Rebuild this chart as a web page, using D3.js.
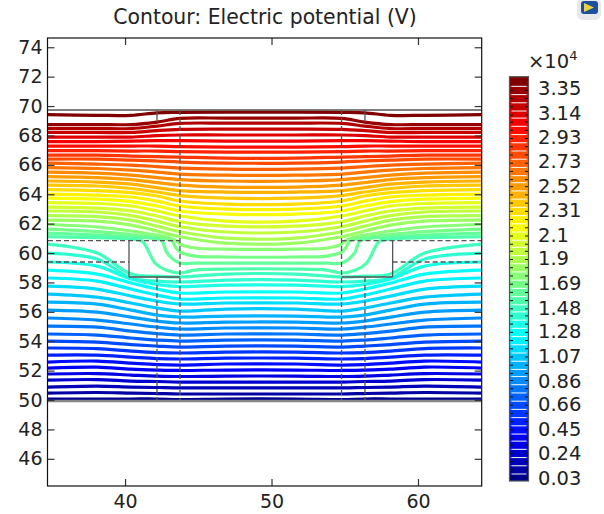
<!DOCTYPE html>
<html><head><meta charset="utf-8">
<script src="https://cdn.jsdelivr.net/npm/d3@7"></script>
<style>html,body{margin:0;padding:0;background:#fff}svg{display:block}text{font-family:"DejaVu Sans",sans-serif;fill:#222}</style>
</head><body><svg id="c" width="604" height="514"></svg>
<script>
const title = "Contour: Electric potential (V)";
const xTicks = [40, 50, 60];
const yTicks = [46,48,50,52,54,56,58,60,62,64,66,68,70,72,74];
const xDomain = [34.74, 64.35];
const yDomain = [44.15, 74.63];
const colorbarLabels = [3.35,3.14,2.93,2.73,2.52,2.31,2.1,1.9,1.69,1.48,1.28,1.07,0.86,0.66,0.45,0.24,0.03];
const levels = [3.40,3.33,3.26,3.19,3.12,3.06,2.99,2.92,2.85,2.78,2.71,2.64,2.57,2.51,2.44,2.37,2.30,2.23,2.16,2.09,2.02,1.96,1.89,1.82,1.75,1.68,1.61,1.54,1.47,1.41,1.34,1.27,1.20,1.13,1.06,0.99,0.92,0.86,0.79,0.72,0.65,0.58,0.51,0.44,0.37,0.31,0.24,0.17,0.10,0.03];
const jetStops = [0, 0.11, 0.36, 0.5, 0.64, 0.89, 1];
const jetColors = ["#00008f","#0000ff","#00ffff","#7fff7f","#ffff00","#ff0000","#800000"];

// x positions at which contour heights were read, left half
const nodeX = [34.74, 38.09, 40.41, 42.18, 43.75, 46.89];
const symmetryX = 49.27;
const rightEdgeX = 64.35;

// contour heights at nodeX, rows are levels 0-23
const upperRows = [
[69.41,69.37,69.37,69.54,69.57,69.59],
[68.74,68.74,68.74,68.91,69.16,69.18],
[68.47,68.47,68.47,68.64,68.82,68.84],
[68.20,68.20,68.20,68.33,68.41,68.43],
[67.89,67.89,67.89,67.99,68.03,68.03],
[67.58,67.58,67.62,67.65,67.65,67.62],
[67.28,67.28,67.28,67.28,67.24,67.21],
[66.97,66.97,66.94,66.94,66.90,66.87],
[66.66,66.66,66.60,66.56,66.53,66.46],
[66.39,66.39,66.32,66.26,66.19,66.12],
[66.12,66.05,65.98,65.88,65.78,65.71],
[65.81,65.75,65.64,65.51,65.37,65.30],
[65.51,65.44,65.30,65.13,65.00,64.90],
[65.20,65.13,65.00,64.79,64.62,64.49],
[64.90,64.83,64.69,64.45,64.25,64.15],
[64.62,64.56,64.39,64.15,63.91,63.74],
[64.32,64.25,64.11,63.88,63.54,63.33],
[64.01,63.94,63.81,63.53,63.20,62.99],
[63.74,63.67,63.50,63.20,62.86,62.65],
[63.43,63.37,63.20,62.86,62.52,62.17],
[63.13,63.06,62.86,62.52,62.13,61.83],
[62.86,62.79,62.55,62.17,61.79,61.43],
[62.55,62.48,62.24,61.83,61.45,61.02],
[62.24,62.17,61.90,61.50,61.11,60.68]];

// levels 24-27 dip into the cavity, so they carry their own x positions
const dipX24 = [34.74,38.09,40.41,42.18,43.07,43.55,43.75,44.78,46.89];
const dipY24 = [61.94,61.77,61.50,61.22,61.02,60.81,60.61,60.34,60.27];
const dipX25 = [34.74,38.09,40.41,42.18,42.94,43.21,43.48,43.75,44.78,46.89];
const dipY25 = [61.63,61.46,61.26,61.05,60.92,60.81,60.34,60.07,59.79,59.73];
const dipX26 = [34.74,38.09,40.41,42.18,42.53,42.87,43.75,44.78,46.89];
const dipY26 = [61.36,61.22,61.09,60.95,60.81,60.00,59.32,59.32,59.32];
const dipX27 = [34.74,38.09,40.41,41.16,42.05,42.80,43.75,44.78,46.89];
const dipY27 = [61.12,61.05,60.95,60.81,59.32,58.84,58.64,58.84,58.91];

// contour heights at nodeX, rows are levels 28-49
const lowerRows = [
[60.61,60.00,58.57,58.43,58.37,58.57],
[60.00,59.59,58.30,58.09,58.03,58.16],
[59.39,59.11,58.23,57.86,57.72,57.82],
[58.84,58.57,57.96,57.55,57.28,57.35],
[58.30,58.09,57.55,57.14,56.87,56.94],
[57.75,57.55,57.07,56.73,56.53,56.60],
[57.21,57.00,56.60,56.26,56.05,56.19],
[56.66,56.53,56.12,55.78,55.64,55.71],
[56.12,55.98,55.64,55.37,55.24,55.30],
[55.58,55.44,55.17,54.96,54.83,54.90],
[55.03,54.96,54.69,54.52,54.42,54.49],
[54.49,54.42,54.22,54.08,54.01,54.08],
[54.01,53.94,53.77,53.67,53.60,53.67],
[53.54,53.50,53.33,53.23,53.20,53.26],
[53.06,53.06,52.92,52.82,52.79,52.85],
[52.58,52.65,52.51,52.41,52.38,52.45],
[52.17,52.24,52.10,52.04,52.01,52.04],
[51.77,51.80,51.70,51.63,51.60,51.63],
[51.36,51.39,51.29,51.26,51.22,51.22],
[50.88,50.95,50.88,50.85,50.82,50.82],
[50.47,50.51,50.47,50.44,50.41,50.41],
[50.07,50.07,50.07,50.07,50.03,50.07]];

// geometry edges: x1,y1,x2,y2,dashed
const geometry = [
[34.74,69.73,64.35,69.73,0],
[42.18,69.73,42.18,68.91,0],[56.38,69.73,56.38,68.91,0],
[43.75,69.73,43.75,50,1],[54.78,69.73,54.78,50,1],
[42.18,58.37,42.18,50,1],[56.38,58.37,56.38,50,1],
[34.74,60.85,43.75,60.85,1],[54.78,60.85,64.35,60.85,1],
[34.74,59.39,40.27,59.39,1],[58.27,59.39,64.35,59.39,1],
[40.27,60.85,40.27,58.37,0],[58.27,60.85,58.27,58.37,0],
[40.27,58.37,43.75,58.37,0],[54.78,58.37,58.27,58.37,0]];
const substrateY = 49.93;

const plot = {l:47.5, r:481.7, t:38, b:486};
const x = d3.scaleLinear().domain(xDomain).range([plot.l+0.5, plot.r]);
const y = d3.scaleLinear().domain(yDomain).range([plot.b, plot.t]);
const jetScale = d3.scaleLinear().domain(jetStops).range(jetColors);
const colorOf = v => jetScale((v-0.03)/(3.40-0.03));
const svg = d3.select("#c");
const defs = svg.append("defs");
defs.append("clipPath").attr("id","pc").append("rect").attr("x",plot.l).attr("y",plot.t).attr("width",plot.r-plot.l).attr("height",plot.b-plot.t);

svg.append("text").attr("x",265).attr("y",24).attr("text-anchor","middle").attr("font-size",20.4).text(title);

const mirror = v => v===nodeX[0] ? rightEdgeX : 2*symmetryX - v;
const lineGen = d3.line().x(d=>x(d[0])).y(d=>y(d[1])).curve(d3.curveCatmullRom.alpha(0.5));
function fullLine(xs, ys){
  const left = xs.map((v,i)=>[v,ys[i]]);
  const right = xs.map((v,i)=>[mirror(v),ys[i]]).reverse();
  return left.concat(right);
}
const lineSets = [
  ...upperRows.map(r=>fullLine(nodeX,r)),
  fullLine(dipX24,dipY24),fullLine(dipX25,dipY25),fullLine(dipX26,dipY26),fullLine(dipX27,dipY27),
  ...lowerRows.map(r=>fullLine(nodeX,r))
];
const gL = svg.append("g").attr("clip-path","url(#pc)");
gL.selectAll("path").data(lineSets).join("path")
  .attr("d",lineGen).attr("fill","none").attr("stroke-width",3.2)
  .attr("stroke",(d,i)=>colorOf(levels[i]));

const gG = svg.append("g").attr("clip-path","url(#pc)");
gG.selectAll("line").data(geometry).join("line")
  .attr("x1",d=>x(d[0])).attr("y1",d=>y(d[1])).attr("x2",d=>x(d[2])).attr("y2",d=>y(d[3]))
  .attr("stroke","#555").attr("stroke-width",1.3)
  .attr("stroke-dasharray",d=>d[4]?"5 3":null);
gG.append("line").attr("x1",x(xDomain[0])).attr("x2",x(xDomain[1])).attr("y1",y(substrateY)).attr("y2",y(substrateY))
  .attr("stroke","#888").attr("stroke-width",2.4);

function styleAxis(g){
  g.selectAll(".domain").remove();
  g.selectAll("line").attr("stroke","#333").attr("stroke-width",1.2);
  g.selectAll("text").attr("font-size",19).attr("font-family",'"DejaVu Sans"').attr("fill","#222");
}
svg.append("g").attr("transform",`translate(0,${plot.b})`).call(d3.axisBottom(x).tickValues(xTicks).tickSize(-7).tickPadding(9).tickFormat(d3.format("d"))).call(styleAxis);
svg.append("g").attr("transform",`translate(0,${plot.t})`).call(d3.axisTop(x).tickValues(xTicks).tickSize(-7).tickFormat("")).call(styleAxis);
svg.append("g").attr("transform",`translate(${plot.l},0)`).call(d3.axisLeft(y).tickValues(yTicks).tickSize(-7).tickPadding(5).tickFormat(d3.format("d"))).call(styleAxis);
svg.append("g").attr("transform",`translate(${plot.r},0)`).call(d3.axisRight(y).tickValues(yTicks).tickSize(-7).tickFormat("")).call(styleAxis);
svg.append("rect").attr("x",plot.l).attr("y",plot.t).attr("width",plot.r-plot.l).attr("height",plot.b-plot.t).attr("fill","none").attr("stroke","#111").attr("stroke-width",1.2);

// colour bar
const bar = {l:509.5, r:528.5, t:76.7, b:481};
const barY = d3.scaleLinear().domain([0.03,3.35]).range([478,88]);
const barG = svg.append("g");
levels.forEach((v,i)=>{
  const next = i<levels.length-1 ? levels[i+1] : 0.0;
  const top = i===0 ? bar.t : barY(v+0.034);
  const bottom = i===levels.length-1 ? bar.b : barY(next+0.034);
  barG.append("rect").attr("x",bar.l).attr("width",bar.r-bar.l).attr("y",top).attr("height",bottom-top).attr("fill",colorOf(v));
});
levels.slice(1).forEach(v=>{
  barG.append("line").attr("x1",bar.l+2).attr("x2",bar.r-2).attr("y1",barY(v+0.034)).attr("y2",barY(v+0.034)).attr("stroke","#fff").attr("stroke-opacity",0.85).attr("stroke-width",1.1);
  const t = barY(v);
  barG.append("line").attr("x1",bar.l).attr("x2",bar.l+3.5).attr("y1",t).attr("y2",t).attr("stroke","#111");
  barG.append("line").attr("x1",bar.r-3.5).attr("x2",bar.r).attr("y1",t).attr("y2",t).attr("stroke","#111");
});
barG.append("rect").attr("x",bar.l).attr("y",bar.t).attr("width",bar.r-bar.l).attr("height",bar.b-bar.t).attr("fill","none").attr("stroke","#555").attr("stroke-width",1.2);
svg.append("g").selectAll("text").data(colorbarLabels).join("text")
  .attr("x",538).attr("y",d=>barY(d)+7).attr("font-size",19.5).text(d=>String(d));
const mult = svg.append("text").attr("x",528).attr("y",68).attr("font-size",19.5);
mult.append("tspan").text("\u00d710");
mult.append("tspan").attr("dy",-8).attr("font-size",13).text("4");

// application icon in the corner
const icon = svg.append("g");
icon.append("rect").attr("x",577).attr("y",-2).attr("width",24).attr("height",22).attr("rx",6).attr("fill","#e6e8ec");
icon.append("rect").attr("x",581).attr("y",1).attr("width",17).attr("height",13).attr("rx",3).attr("fill","#1d4f9e");
icon.append("path").attr("d","M584 3L594 7.5L584 12Z").attr("fill","#e8d24a");
</script></body></html>
